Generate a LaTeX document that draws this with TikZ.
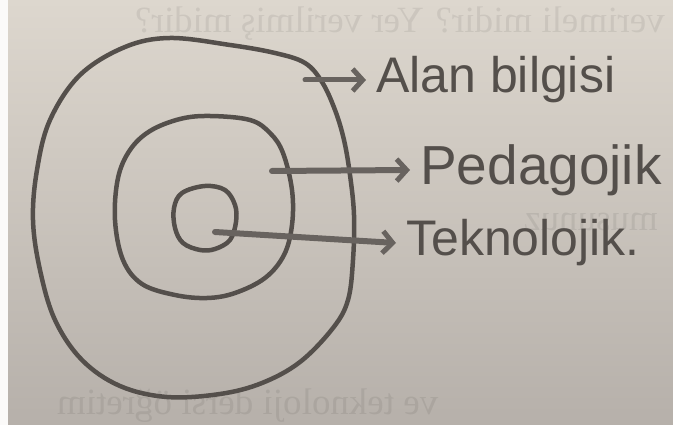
\documentclass[tikz,border=0pt]{standalone}
\usepackage{fontspec}
\usepackage{graphicx}
\setmainfont{Liberation Serif}
\newfontfamily\hand{Liberation Sans}
\usetikzlibrary{arrows.meta}
\definecolor{papier}{RGB}{221,215,206}
\definecolor{papierdunkel}{RGB}{182,176,170}
\definecolor{mine}{RGB}{84,79,75}
\definecolor{minehell}{RGB}{104,99,95}
\begin{document}
\begin{tikzpicture}[x=1pt,y=-1pt,line cap=round,line join=round,
  strich/.style={draw=mine,line width=4.5pt},
  pfeil/.style={draw=minehell,line width=6pt,-{Straight Barb[length=10pt,width=22pt,line width=5pt]}},
  schrift/.style={font=\hand\fontsize{50}{60}\selectfont,text=mine,anchor=west,inner xsep=10pt,inner ysep=0pt},
  durch/.style={font=\fontsize{37}{40}\selectfont,text=black,text opacity=.07,inner sep=0pt}]
\useasboundingbox (0,0) rectangle (673,425);
\shade[top color=papier,bottom color=papierdunkel] (0,0) rectangle (673,425);
\fill[white!88!papier] (0,0) rectangle (8,425);
% Durchscheinende Schrift der Rueckseite.
\node[durch,anchor=base east] (rueck1) at (665,33){\reflectbox{verimeli midir? Yer verilmiş midir?}};
\node[durch,anchor=base east] (rueck2) at (658,231){\reflectbox{musunuz}};
\node[durch,anchor=base west] (rueck3) at (57,414){\reflectbox{ve teknoloji dersi öğretim}};
% Drei Ringe, von Hand gezogen.
\draw[strich] plot[smooth cycle,tension=.6] coordinates {(170,38) (230,45) (275,53) (305,63) (322,82)
 (335,110) (344,140) (350,175) (354,215) (353,260) (348,300) (333,328) (300,362) (262,383) (220,394)
 (167,397) (120,386) (82,360) (55,320) (40,270) (33,220) (37,170) (50,120) (80,75) (125,47)};
\draw[strich] plot[smooth cycle,tension=.6] coordinates {(210,116) (250,120) (270,133) (283,153) (292,190)
 (292,225) (284,255) (265,278) (235,293) (207,298) (175,295) (142,284) (123,260) (115,220) (118,178)
 (130,150) (150,131) (180,119)};
\draw[strich] plot[smooth cycle,tension=.6] coordinates {(205,186) (225,190) (235,205) (236,222) (230,240)
 (215,249) (200,250) (183,243) (175,228) (174,208) (182,193)};
% Beschriftungen mit Pfeilen aus den Ringen.
\coordinate (aussen) at (305,80);
\coordinate (mitte) at (272,171);
\coordinate (kern) at (215,232);
\node[schrift] (alan) at (366,80){Alan bilgisi};
\node[schrift,font=\hand\fontsize{55}{60}\selectfont] (ped) at (410,170){Pedagojik};
\node[schrift] (tek) at (396,243){Teknolojik.};
\draw[pfeil,line width=5pt] (aussen)--(alan.west);
\draw[pfeil] (mitte)--(ped.west);
\draw[pfeil] (kern)--(tek.west);
\end{tikzpicture}
\end{document}
